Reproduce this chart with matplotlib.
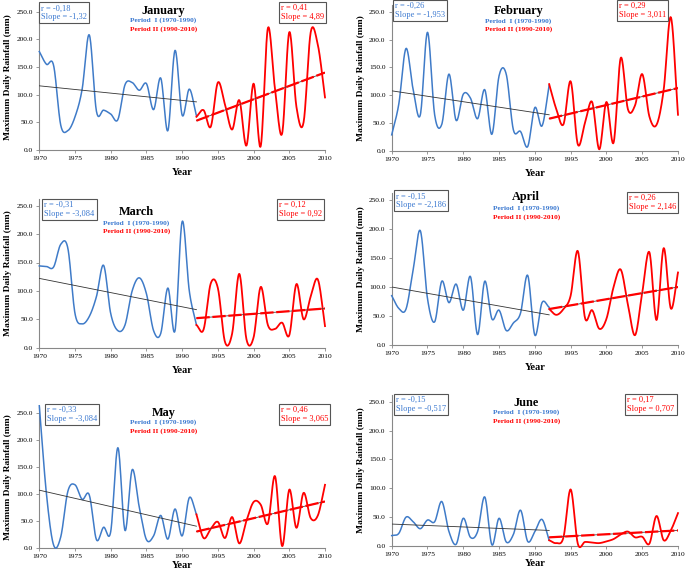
import numpy as np
import matplotlib
matplotlib.use('Agg')
import matplotlib.pyplot as plt

# ---------------- data ----------------
years_p1 = list(range(1970, 1993))
years_p2 = list(range(1992, 2011))
months = ['January', 'February', 'March', 'April', 'May', 'June']

jan_p1 = [178, 155, 153, 45, 35, 60, 110, 208, 70, 72, 65, 55, 118, 122, 108, 120, 73, 130, 35, 180, 63, 110, 62]
jan_p2 = [60, 72, 42, 122, 82, 37, 90, 8, 120, 7, 220, 110, 30, 213, 78, 50, 213, 190, 95]
feb_p1 = [29, 85, 184, 110, 65, 213, 65, 48, 138, 55, 102, 95, 58, 110, 30, 135, 138, 38, 35, 8, 78, 45, 118]
feb_p2 = [120, 75, 48, 125, 12, 50, 88, 3, 88, 15, 167, 75, 82, 138, 62, 47, 110, 240, 65]
mar_p1 = [144, 143, 142, 182, 175, 60, 42, 55, 90, 145, 60, 30, 40, 100, 123, 95, 30, 25, 105, 30, 222, 100, 40]
mar_p2 = [40, 32, 113, 105, 10, 25, 130, 15, 18, 107, 40, 33, 44, 22, 112, 50, 90, 120, 38]
apr_p1 = [85, 63, 62, 130, 197, 80, 40, 110, 73, 105, 60, 118, 18, 110, 45, 60, 25, 38, 55, 120, 17, 73, 65]
apr_p2 = [62, 52, 62, 85, 162, 47, 60, 28, 45, 100, 130, 70, 17, 90, 160, 43, 167, 63, 125]
may_p1 = [264, 100, 5, 20, 105, 117, 90, 98, 15, 38, 30, 186, 32, 145, 75, 15, 22, 60, 16, 72, 22, 93, 62]
may_p2 = [62, 18, 35, 48, 18, 57, 8, 50, 85, 80, 45, 133, 3, 108, 37, 102, 55, 60, 117]
jun_p1 = [18, 22, 50, 42, 30, 45, 42, 77, 25, 3, 48, 15, 25, 85, 2, 48, 7, 20, 62, 8, 25, 46, 10]
jun_p2 = [10, 5, 15, 98, 4, 7, 6, 5, 8, 12, 20, 25, 15, 16, 4, 52, 10, 27, 57]

series_p1 = [jan_p1, feb_p1, mar_p1, apr_p1, may_p1, jun_p1]
series_p2 = [jan_p2, feb_p2, mar_p2, apr_p2, may_p2, jun_p2]

# trend line end values (start year, end year)
trend_p1 = [(116, 87), (108, 65), (122, 67), (100, 52), (107, 40), (38, 27)]
trend_p2 = [(53, 140), (58, 113), (52, 69), (62, 100), (30, 86), (15, 27)]

r_p1 = ['-0,18', '-0,26', '-0,31', '-0,15', '-0,33', '-0,15']
slope_p1 = ['-1,32', '-1,953', '-3,084', '-2,186', '-3,084', '-0,517']
r_p2 = ['0,41', '0,29', '0,12', '0,26', '0,46', '0,17']
slope_p2 = ['4,89', '3,011', '0,92', '2,146', '3,065', '0,707']

yticks = [0, 50, 100, 150, 200, 250]
xticks = [1970, 1975, 1980, 1985, 1990, 1995, 2000, 2005, 2010]

# ---------------- layout ----------------
W, H = 685, 573
# (left px, right px, y px of 0, y px of 250)
rects = [(39.3, 325, 150, 11.7), (391.7, 678, 151, 11.7),
         (39.3, 325, 347.7, 205.7), (391.7, 678, 345, 200),
         (39.3, 325, 547.7, 413.3), (391.7, 678, 546, 401.7)]
xlabel_pads = [5, 5, 5, 5, 1.5, 1.5]
YTOP = 262
# title x, title y, period1 y, period2 y, left box (x, ytop), right box (x, ytop)
texts = [(1987.4, 252, 234, 218, (1970.3, 263), (2003.8, 264)),
         (1987.7, 252, 234, 218, (1970.5, 267), (2001.7, 267)),
         (1983.6, 239, 220, 205, (1970.7, 258), (2003.6, 258)),
         (1988.8, 255, 236, 221, (1970.6, 263), (2003.1, 260)),
         (1987.4, 251, 233, 216, (1971.1, 264), (2003.8, 263)),
         (1988.8, 248, 231.5, 216.5, (1970.6, 260), (2002.9, 260))]

BLUE = '#3f7bc8'
BLUE_T = '#3a78d0'
RED = '#ff0000'
FONT = 'Liberation Serif'
plt.rcParams['font.family'] = FONT


def smooth(x, y, n=20):
    x = np.asarray(x, float)
    y = np.asarray(y, float)
    k = len(x)
    mx = np.zeros(k)
    my = np.zeros(k)
    mx[1:-1] = (x[2:] - x[:-2]) / 2
    my[1:-1] = (y[2:] - y[:-2]) / 2
    mx[0], my[0] = x[1] - x[0], y[1] - y[0]
    mx[-1], my[-1] = x[-1] - x[-2], y[-1] - y[-2]
    xs, ys = [], []
    t = np.linspace(0, 1, n, endpoint=False)
    h00 = 2 * t**3 - 3 * t**2 + 1
    h10 = t**3 - 2 * t**2 + t
    h01 = -2 * t**3 + 3 * t**2
    h11 = t**3 - t**2
    for i in range(k - 1):
        xs.append(h00 * x[i] + h10 * mx[i] + h01 * x[i + 1] + h11 * mx[i + 1])
        ys.append(h00 * y[i] + h10 * my[i] + h01 * y[i + 1] + h11 * my[i + 1])
    xs.append([x[-1]])
    ys.append([y[-1]])
    return np.concatenate(xs), np.concatenate(ys)


fig = plt.figure(figsize=(W / 100, H / 100), dpi=100)

for i in range(6):
    l, r, y0, y250 = rects[i]
    ppm = (y0 - y250) / 250.0
    ytop_px = y0 - YTOP * ppm
    ax = fig.add_axes([l / W, 1 - y0 / H, (r - l) / W, (y0 - ytop_px) / H])
    ax.set_xlim(1970, 2010)
    ax.set_ylim(0, YTOP)
    for s in ['top', 'right']:
        ax.spines[s].set_visible(False)
    for s in ['left', 'bottom']:
        ax.spines[s].set_color('#888888')
        ax.spines[s].set_linewidth(0.8)
    ax.set_yticks(yticks)
    ax.set_yticklabels(['%.1f' % v for v in yticks])
    ax.set_xticks(xticks)
    ax.tick_params(axis='both', labelsize=5.3, length=2.5, width=0.6, color='#888888', pad=2)

    xs, ys = smooth(years_p1, series_p1[i])
    ax.plot(xs, ys, color=BLUE, lw=1.1, clip_on=False, zorder=3)
    xs, ys = smooth(years_p2, series_p2[i])
    ax.plot(xs, ys, color=RED, lw=1.3, clip_on=False, zorder=3)

    ax.plot([years_p1[0], years_p1[-1]], list(trend_p1[i]), color='#333333', lw=0.6, zorder=4)
    ax.plot([years_p2[0], years_p2[-1]], list(trend_p2[i]), color='#444444', lw=0.6, zorder=4)
    ax.plot([years_p2[0], years_p2[-1]], list(trend_p2[i]), color=RED, lw=1.6,
            dashes=(6, 1.2), zorder=5)

    ax.set_xlabel('Year', fontsize=7.5, fontweight='bold', labelpad=xlabel_pads[i])
    ax.set_ylabel('Maximum Daily Rainfall (mm)', fontsize=6.8, fontweight='bold', labelpad=3)

    tx, ty, p1y, p2y, lb, rb = texts[i]
    ax.text(tx, ty, months[i], fontsize=8.8, fontweight='bold', ha='center', va='center')
    ax.text(tx, p1y, 'Period  I (1970-1990)', fontsize=5.3, fontweight='bold', color=BLUE_T,
            ha='center', va='center')
    ax.text(tx, p2y, 'Period II (1990-2010)', fontsize=5.3, fontweight='bold', color=RED,
            ha='center', va='center')
    box = dict(boxstyle='square,pad=0.25', fc='white', ec='#555555', lw=0.8)
    ax.text(lb[0], lb[1], 'r = %s\nSlope = %s' % (r_p1[i], slope_p1[i]), fontsize=6,
            color=BLUE_T, ha='left', va='top', linespacing=1.15, bbox=box, clip_on=False, zorder=6)
    ax.text(rb[0], rb[1], 'r = %s\nSlope = %s' % (r_p2[i], slope_p2[i]), fontsize=6,
            color=RED, ha='left', va='top', linespacing=1.15, bbox=box, clip_on=False, zorder=6)

fig.savefig('out.png', dpi=100)
